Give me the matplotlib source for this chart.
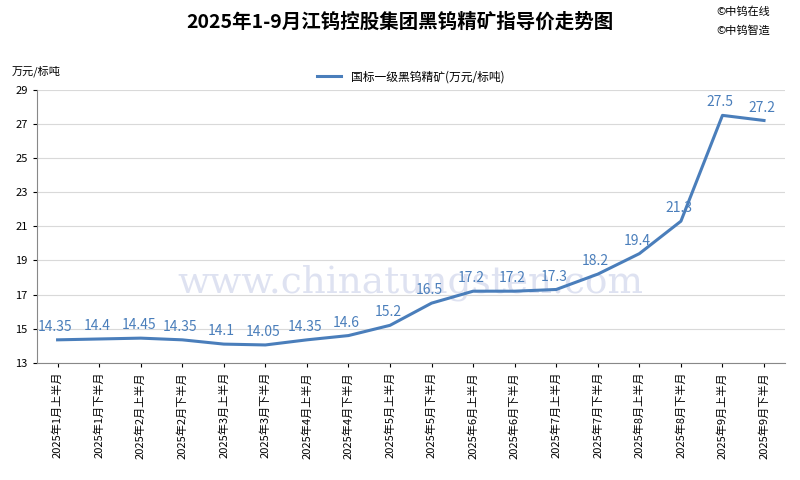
import matplotlib
matplotlib.use("Agg")
import matplotlib.pyplot as plt

plt.rcParams['font.family'] = ['Noto Sans CJK SC', 'DejaVu Sans']

categories = [f"2025年{m}月{h}半月" for m in range(1, 10) for h in ("上", "下")]
values = [14.35, 14.4, 14.45, 14.35, 14.1, 14.05, 14.35, 14.6, 15.2, 16.5,
          17.2, 17.2, 17.3, 18.2, 19.4, 21.3, 27.5, 27.2]
labels = ["14.35", "14.4", "14.45", "14.35", "14.1", "14.05", "14.35", "14.6", "15.2",
          "16.5", "17.2", "17.2", "17.3", "18.2", "19.4", "21.3", "27.5", "27.2"]
yticks = [13, 15, 17, 19, 21, 23, 25, 27, 29]

fig = plt.figure(figsize=(8, 4.8), dpi=100)
ax = fig.add_axes([0.046, 0.244, 0.935, 0.569])
x = list(range(len(categories)))
color = "#4a7ebb"
ax.plot(x, values, color=color, lw=2.2, label="国标一级黑钨精矿(万元/标吨)")
for xi, v, t in zip(x, values, labels):
    ax.text(xi - 0.05, v + 0.35, t, color=color, fontsize=10, ha="center", va="bottom")
ax.set_xlim(-0.5, len(categories) - 0.5)
ax.set_ylim(13, 29)
ax.set_yticks(yticks)
ax.set_xticks(x)
ax.set_xticklabels(categories, rotation=90, fontsize=8)
ax.tick_params(axis='y', labelsize=8, length=3)
ax.tick_params(axis='x', length=3)
ax.grid(axis='y', color="#d9d9d9", lw=0.8)
ax.set_axisbelow(True)
for s in ["top", "right"]:
    ax.spines[s].set_visible(False)
ax.spines["left"].set_color("#888888")
ax.spines["bottom"].set_color("#888888")

fig.text(0.5, 0.955, "2025年1-9月江钨控股集团黑钨精矿指导价走势图", ha="center", va="center",
         fontsize=14, fontweight="bold")
fig.text(0.015, 0.845, "万元/标吨", fontsize=8)
fig.text(0.895, 0.968, "©中钨在线", fontsize=8)
fig.text(0.895, 0.93, "©中钨智造", fontsize=8)
ax.legend(loc="upper center", bbox_to_anchor=(0.5, 1.11), frameon=False, fontsize=8.5,
          handlelength=2)
ax.text(0.5, 0.36, "www.chinatungsten.com", transform=ax.transAxes, ha="center", va="top",
        fontsize=27, color="#c9cfe8", alpha=0.6, family="DejaVu Serif", zorder=0)
fig.savefig("out.png")
